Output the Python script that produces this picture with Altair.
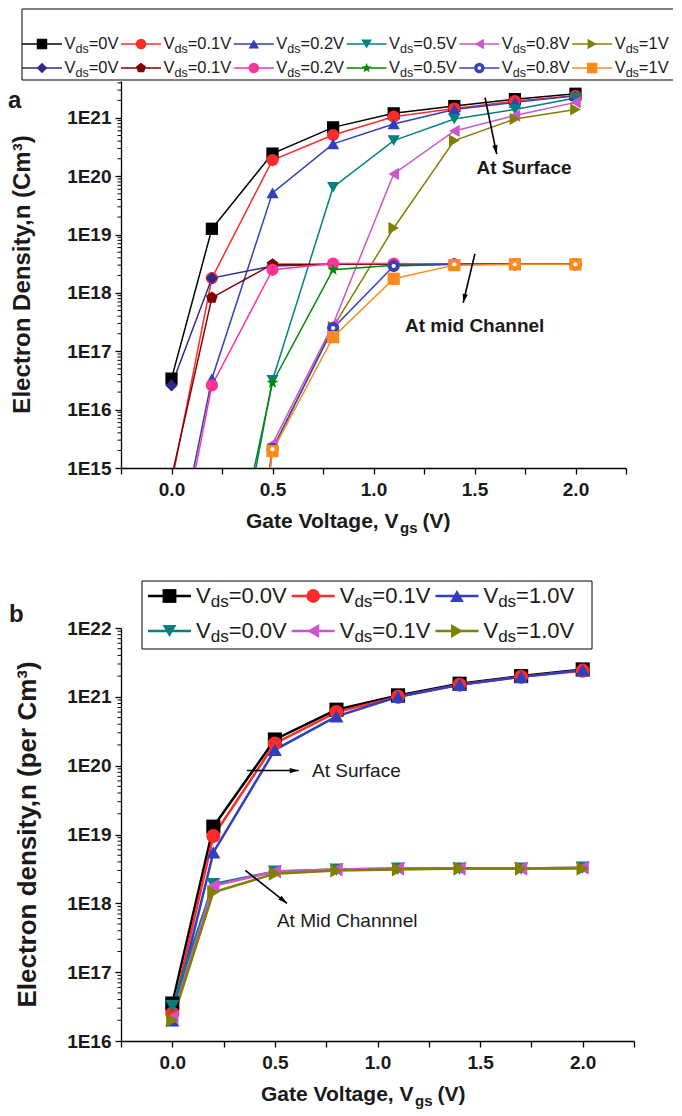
import math
import altair as alt
import pandas as pd

FONT = "Liberation Sans"
INK = "#1a1a1a"

# ---------------- data ----------------
vgs = [0.0, 0.2, 0.5, 0.8, 1.1, 1.4, 1.7, 2.0]

# panel a : electron density (per cm^3); None = not plotted
a_surf_vds0 = [3.4e16, 1.26e19, 2.45e20, 6.9e20, 1.2e21, 1.6e21, 2.1e21, 2.6e21]
a_surf_vds01 = [5.5e14, 1.8e18, 1.9e20, 5.1e20, 1.05e21, 1.45e21, 1.95e21, 2.4e21]
a_surf_vds02 = [1.3e13, 3.4e16, 5.2e19, 3.6e20, 7.9e20, 1.4e21, 1.85e21, 2.4e21]
a_surf_vds05 = [None, 1.0e11, 3.2e16, 6.5e19, 4.1e20, 9.6e20, 1.4e21, 2.2e21]
a_surf_vds08 = [None, 1.0e7, 2.6e15, 2.9e17, 1.1e20, 6.0e20, 1.1e21, 1.85e21]
a_surf_vds1 = [None, 1.0e7, 2.1e15, 2.6e17, 1.3e19, 4.1e20, 9.6e20, 1.4e21]
a_mid_vds0 = [2.6e16, 1.8e18, 2.9e18, 3.1e18, 3.1e18, 3.1e18, 3.1e18, 3.1e18]
a_mid_vds01 = [6.8e14, 8.3e17, 3.1e18, 3.1e18, 3.1e18, 3.1e18, 3.1e18, 3.1e18]
a_mid_vds02 = [8.0e12, 2.6e16, 2.5e18, 3.2e18, 3.2e18, 3.1e18, 3.1e18, 3.1e18]
a_mid_vds05 = [None, 4.0e11, 2.9e16, 2.5e18, 3.0e18, 3.1e18, 3.1e18, 3.1e18]
a_mid_vds08 = [None, 1.0e7, 2.1e15, 2.5e17, 2.9e18, 3.1e18, 3.1e18, 3.1e18]
a_mid_vds1 = [None, 1.0e7, 1.95e15, 1.75e17, 1.75e18, 3.0e18, 3.1e18, 3.1e18]
a_vds_text = ["=0V", "=0.1V", "=0.2V", "=0.5V", "=0.8V", "=1V"]

# panel b
b_surf_vds00 = [3.5e16, 1.3e19, 2.4e20, 6.5e20, 1.05e21, 1.55e21, 2.0e21, 2.5e21]
b_surf_vds01 = [2.5e16, 9.5e18, 2.1e20, 6.0e20, 1.0e21, 1.5e21, 1.95e21, 2.4e21]
b_surf_vds10 = [2.0e16, 5.5e18, 1.7e20, 5.2e20, 1.0e21, 1.5e21, 1.95e21, 2.45e21]
b_mid_vds00 = [3.2e16, 1.9e18, 2.9e18, 3.1e18, 3.2e18, 3.2e18, 3.2e18, 3.3e18]
b_mid_vds01 = [2.2e16, 1.8e18, 2.9e18, 3.1e18, 3.2e18, 3.2e18, 3.2e18, 3.3e18]
b_mid_vds10 = [2.0e16, 1.45e18, 2.7e18, 3.0e18, 3.1e18, 3.2e18, 3.2e18, 3.2e18]
b_vds_text = ["=0.0V", "=0.1V", "=1.0V"]

x_ticks = [-0.25, 0.0, 0.25, 0.5, 0.75, 1.0, 1.25, 1.5, 1.75, 2.0, 2.25]
a_decades = [1e15, 1e16, 1e17, 1e18, 1e19, 1e20, 1e21]
b_decades = [1e16, 1e17, 1e18, 1e19, 1e20, 1e21, 1e22]

# annotations (data coordinates)
a_notes = [("At Surface", 1.51, 1.4e20), ("At mid Channel", 1.156, 2.7e17)]
a_arrows = [(1.552, 2.24e21, 1.610, 2.4e20), (1.502, 4.7e18, 1.444, 6.8e17)]
b_notes = [("At Surface", 0.681, 8.3e19), ("At Mid Channnel", 0.51, 5.5e17)]
b_arrows = [(0.364, 8.5e19, 0.616, 8.5e19), (0.356, 3.0e18, 0.559, 1.0e18)]

# ---------------- styles ----------------
PENT = "M0,-1L0.951,-0.309L0.588,0.809L-0.588,0.809L-0.951,-0.309Z"
_sp = []
for i in range(10):
    r = 1.0 if i % 2 == 0 else 0.42
    ang = math.radians(-90 + 36 * i)
    _sp.append("%.3f,%.3f" % (r * math.cos(ang), r * math.sin(ang)))
STAR = "M" + "L".join(_sp) + "Z"
ARROW = "M0,0L-0.7,2.4L0.7,2.4Z"

a_keys = ["as0", "as01", "as02", "as05", "as08", "as1", "am0", "am01", "am02", "am05", "am08", "am1"]
a_arrays = [a_surf_vds0, a_surf_vds01, a_surf_vds02, a_surf_vds05, a_surf_vds08, a_surf_vds1,
            a_mid_vds0, a_mid_vds01, a_mid_vds02, a_mid_vds05, a_mid_vds08, a_mid_vds1]
a_colors = ["#000000", "#ff2a2a", "#2f3fc0", "#008080", "#cc55cc", "#808000",
            "#2e2a8a", "#7f0000", "#ff3399", "#008800", "#3344bb", "#ff8a1a"]
a_shapes = ["square", "circle", "triangle-up", "triangle-down", "triangle-left", "triangle-right",
            "diamond", PENT, "circle", STAR, "circle", "square"]

b_keys = ["bs00", "bs01", "bs10", "bm00", "bm01", "bm10"]
b_arrays = [b_surf_vds00, b_surf_vds01, b_surf_vds10, b_mid_vds00, b_mid_vds01, b_mid_vds10]
b_colors = ["#000000", "#ff2a2a", "#2f3fc0", "#008080", "#cc55cc", "#808000"]
b_shapes = ["square", "circle", "triangle-up", "triangle-down", "triangle-left", "triangle-right"]

REG = {"V": 0.667, "d": 0.556, "s": 0.5, "=": 0.584, "0": 0.556, "1": 0.556, "2": 0.556,
       "5": 0.556, "8": 0.556, ".": 0.278}
BOLD = {"G": 0.778, "a": 0.556, "t": 0.333, "e": 0.556, " ": 0.278, "V": 0.667, "o": 0.611,
        "l": 0.278, "g": 0.611, ",": 0.278, "s": 0.556}


def wtxt(s, size, table):
    return size * sum(table[c] for c in s)


def long_df(keys, arrays):
    rows = []
    for k_i, (k, arr) in enumerate(zip(keys, arrays)):
        for x, v in zip(vgs, arr):
            if v is not None:
                rows.append({"s": k, "k": k_i, "x": x, "y": v})
    return pd.DataFrame(rows)


def ptext(rows, size, weight="normal", align="left", baseline="middle", angle=0):
    df = pd.DataFrame(rows, columns=["px", "py", "t"])
    return alt.Chart(df).mark_text(font=FONT, fontSize=size, fontWeight=weight, align=align,
                                   baseline=baseline, angle=angle, color=INK).encode(
        x=alt.X("px:Q", scale=None, axis=None),
        y=alt.Y("py:Q", scale=None, axis=None),
        text="t:N")


def build_legend(keys_rows, texts, start, line_len, gap, fmain, fsub, sub_dy, rows_y, box, msize,
                 dot_key=None):
    lrules, lsyms, tV, tds, tval, dots = [], [], [], [], [], []
    cur = start
    slots = []
    for lab in texts:
        x0 = cur
        x1 = cur + line_len
        xt = x1 + gap
        wV = wtxt("V", fmain, REG)
        wds = wtxt("ds", fsub, REG)
        wr = wtxt(lab, fmain, REG)
        slots.append((x0, x1, (x0 + x1) / 2, xt, xt + wV, xt + wV + wds))
        cur = xt + wV + wds + wr + gap
    for keys, ry in zip(keys_rows, rows_y):
        for k, lab, sl in zip(keys, texts, slots):
            lrules.append((sl[0], sl[1], ry, k))
            lsyms.append((sl[2], ry, k))
            if k == dot_key:
                dots.append((sl[2], ry))
            tV.append((sl[3], ry, "V"))
            tds.append((sl[4], ry + sub_dy, "ds"))
            tval.append((sl[5], ry, lab))
    return {"box": box, "rules": lrules, "syms": lsyms, "msize": msize, "dots": dots,
            "texts": [ptext(tV, fmain), ptext(tds, fsub), ptext(tval, fmain)]}


def panel(keys, arrays, colors, shapes, W, H, ydom, decades, lw, msize, legend, notes, arrows,
          note_weight, note_size, letter, ytitle, ytitle_size, ytitle_x, xtitle_x, dot_key=None):
    df = long_df(keys, arrays)
    xs = alt.Scale(domain=[-0.25, 2.25], nice=False, zero=False)
    ys = alt.Scale(type="log", domain=ydom, nice=False)
    cs = alt.Scale(domain=keys, range=colors)
    ss = alt.Scale(domain=keys, range=shapes)
    xaxis = alt.Axis(values=x_ticks, title=None, grid=False, tickSize=6, tickWidth=1.3,
                     tickColor="black", domainColor="black", domainWidth=1.3,
                     labelExpr="abs(datum.value*2 - round(datum.value*2)) < 0.001 ? format(datum.value, '.1f') : ''",
                     labelFont=FONT, labelFontSize=19, labelFontWeight="bold", labelColor=INK,
                     labelPadding=6, labelOverlap=False)
    yaxis = alt.Axis(values=decades, title=None, grid=False, tickSize=6, tickWidth=1.3,
                     tickColor="black", domainColor="black", domainWidth=1.3,
                     labelExpr="'1E' + round(log(datum.value)/LN10)",
                     labelFont=FONT, labelFontSize=19, labelFontWeight="bold", labelColor=INK,
                     labelPadding=4, labelOverlap=False)
    X = alt.X("x:Q", scale=xs, axis=xaxis)
    Y = alt.Y("y:Q", scale=ys, axis=yaxis)
    C = alt.Color("s:N", scale=cs, legend=None)
    S = alt.Shape("s:N", scale=ss, legend=None)

    layers = []
    layers.append(alt.Chart(df).mark_line(strokeWidth=lw, clip=True).encode(x=X, y=Y, color=C, detail="s:N"))
    layers.append(alt.Chart(df).mark_point(filled=True, opacity=1, size=msize, clip=True).encode(
        x=X, y=Y, color=C, shape=S, order=alt.Order("k:Q")))
    if dot_key is not None:
        layers.append(alt.Chart(df[df["s"] == dot_key]).mark_point(
            filled=True, opacity=1, size=18, color="white", clip=True, shape="circle").encode(x=X, y=Y))

    # minor log ticks
    minors = []
    lo = int(round(math.log10(ydom[0])))
    hi = int(math.floor(math.log10(ydom[1])))
    for n in range(lo, hi + 1):
        for k in range(2, 10):
            v = k * 10.0 ** n
            if v < ydom[1]:
                minors.append({"y": v})
    layers.append(alt.Chart(pd.DataFrame(minors)).mark_rule(color="black", strokeWidth=1).encode(
        y=Y, x=alt.value(0), x2=alt.value(-3.5)))

    # legend
    layers.append(alt.Chart(pd.DataFrame(legend["box"], columns=["px", "px2", "py", "py2"])).mark_rule(
        color="black", strokeWidth=1).encode(
        x=alt.X("px:Q", scale=None, axis=None), x2="px2:Q",
        y=alt.Y("py:Q", scale=None, axis=None), y2="py2:Q"))
    layers.append(alt.Chart(pd.DataFrame(legend["rules"], columns=["px", "px2", "py", "s"])).mark_rule(
        strokeWidth=lw).encode(
        x=alt.X("px:Q", scale=None, axis=None), x2="px2:Q",
        y=alt.Y("py:Q", scale=None, axis=None), color=C))
    layers.append(alt.Chart(pd.DataFrame(legend["syms"], columns=["px", "py", "s"])).mark_point(
        filled=True, opacity=1, size=legend["msize"]).encode(
        x=alt.X("px:Q", scale=None, axis=None), y=alt.Y("py:Q", scale=None, axis=None),
        color=C, shape=S))
    if legend["dots"]:
        layers.append(alt.Chart(pd.DataFrame(legend["dots"], columns=["px", "py"])).mark_point(
            filled=True, opacity=1, size=14, color="white", shape="circle").encode(
            x=alt.X("px:Q", scale=None, axis=None), y=alt.Y("py:Q", scale=None, axis=None)))
    layers.extend(legend["texts"])

    # annotations
    layers.append(alt.Chart(pd.DataFrame(notes, columns=["t", "x", "y"])).mark_text(
        font=FONT, fontSize=note_size, fontWeight=note_weight, align="left", baseline="middle",
        color=INK).encode(x=X, y=Y, text="t:N"))
    adf = pd.DataFrame(arrows, columns=["x", "y", "x2", "y2"])
    layers.append(alt.Chart(adf).mark_rule(color="black", strokeWidth=1.6).encode(
        x=X, y=Y, x2="x2:Q", y2="y2:Q"))
    ld0, ld1 = math.log10(ydom[0]), math.log10(ydom[1])

    def to_px(x, y):
        return ((x + 0.25) / 2.5 * W, H - (math.log10(y) - ld0) / (ld1 - ld0) * H)

    heads = []
    for (x1, y1, x2, y2) in arrows:
        p1, p2 = to_px(x1, y1), to_px(x2, y2)
        ang = math.degrees(math.atan2(p2[0] - p1[0], -(p2[1] - p1[1]))) % 360
        heads.append({"x": x2, "y": y2, "ang": ang})
    layers.append(alt.Chart(pd.DataFrame(heads)).mark_point(
        shape=ARROW, filled=True, opacity=1, size=56, color="black").encode(
        x=X, y=Y, angle=alt.Angle("ang:Q", scale=None)))

    # axis titles and panel letter
    xt0 = xtitle_x
    xm = wtxt("Gate Voltage, V", 21, BOLD)
    xs_ = wtxt("gs", 15, BOLD)
    layers.append(ptext([(xt0, H + 60, "Gate Voltage, V"), (xt0 + xm + xs_ + 5, H + 60, "(V)")],
                        21, "bold", baseline="alphabetic"))
    layers.append(ptext([(xt0 + xm, H + 65, "gs")], 15, "bold", baseline="alphabetic"))
    layers.append(ptext([(ytitle_x, H / 2, ytitle)], ytitle_size, "bold", align="center", angle=270))
    layers.append(ptext([letter], 24, "bold"))

    return alt.layer(*layers).properties(width=W, height=H)


# panel a legend (pixel offsets relative to the plot's top-left corner)
a_box = [(-99, 552, -72, -72), (-99, 552, -1, -1), (-99, -99, -72, -1)]
a_leg = build_legend([a_keys[:6], a_keys[6:]], a_vds_text, -99, 40, 2.5, 16.5, 12.5, 5, [-37, -13],
                     a_box, 110, dot_key="am08")
b_box = [(21, 471, -47, -47), (21, 471, 21, 21), (21, 21, -47, 21), (471, 471, -47, 21)]
b_leg = build_legend([b_keys[:3], b_keys[3:]], b_vds_text, 27, 43, 5, 22, 17, 6, [-32, 3],
                     b_box, 190)

WA, HA = 505, 387
WB, HB = 513, 413

pa = panel(a_keys, a_arrays, a_colors, a_shapes, WA, HA, [1e15, 4.3e21], a_decades, 1.5, 150,
           a_leg, a_notes, a_arrows, "bold", 19, (-113, 20, "a"),
           "Electron Density,n (Cm³)", 24, -98, 125, dot_key="am08")
pb = panel(b_keys, b_arrays, b_colors, b_shapes, WB, HB, [1e16, 1e22], b_decades, 2.5, 200,
           b_leg, b_notes, b_arrows, "normal", 19, (-112, -13, "b"),
           "Electron density,n (per Cm³)", 26, -93, 140)

chart = alt.vconcat(pa, pb, spacing=44,
                    padding={"left": 0, "top": 0, "right": 0, "bottom": 0}).resolve_scale(
    color="independent", shape="independent").configure_view(
    strokeOpacity=0).properties(background="white")

chart.save("out.html", embed_options={"renderer": "svg", "actions": False})
